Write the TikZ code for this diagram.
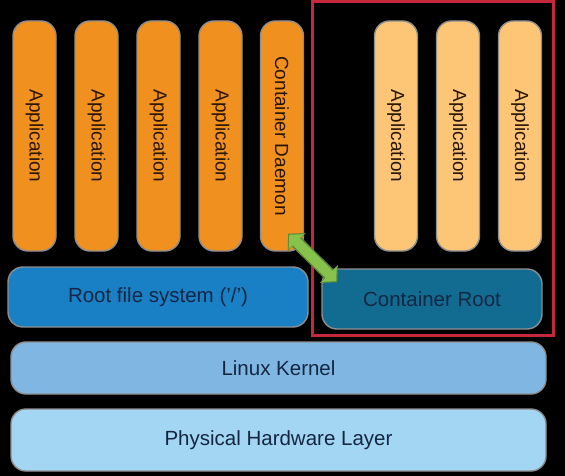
\documentclass[tikz,border=0pt]{standalone}
\usepackage{fontspec}
\setmainfont{Liberation Sans}
\usepackage{tikz}
\usetikzlibrary{arrows.meta, positioning, calc}

\definecolor{apporange}{HTML}{F0901F}
\definecolor{applight}{HTML}{FDC676}
\definecolor{rootblue}{HTML}{1A80C6}
\definecolor{crootblue}{HTML}{126C92}
\definecolor{kernelblue}{HTML}{80B7E2}
\definecolor{hwblue}{HTML}{A2D6F3}
\definecolor{boxred}{HTML}{C4283A}
\definecolor{linkgreen}{HTML}{86C24C}
\definecolor{edgegrey}{HTML}{8E8E8E}
\definecolor{navytext}{HTML}{142642}
\definecolor{browntext}{HTML}{2A1606}

\begin{document}
\begin{tikzpicture}[x=1pt, y=-1pt,
    pillar/.style={draw=edgegrey, line width=1.4pt, rounded corners=15pt,
      minimum width=43pt, minimum height=230pt, inner sep=0pt,
      text=browntext, font=\fontsize{19}{19}\selectfont},
    layer/.style={draw=edgegrey, line width=1.4pt, rounded corners=15pt,
      inner sep=0pt, text=navytext, font=\fontsize{20.5}{20.5}\selectfont}]
      % Background
      \fill[black] (0,0) rectangle (565,476);
      \useasboundingbox (0,0) rectangle (565,476);

      % Host applications
      \foreach \i in {1,...,4}
        \node[pillar, fill=apporange] (app\i) at ({34.5+62*(\i-1)},136)
          {\rotatebox{-90}{Application}};
      \node[pillar, fill=apporange] (daemon) at (282,136)
        {\rotatebox{-90}{Container Daemon}};

      % Container applications
      \foreach \i in {1,...,3}
        \node[pillar, fill=applight] (capp\i) at ({396+62*(\i-1)},136)
          {\rotatebox{-90}{Application}};

      % Root file systems
      \node[layer, fill=rootblue, minimum width=300pt, minimum height=60pt]
        (rootfs) at (158,297) {Root file system ('/')};
      \node[layer, fill=crootblue, minimum width=220pt, minimum height=60pt]
        (croot) at (432,299) {Container Root};

      % Container frame
      \draw[boxred, line width=3pt] (312,2) rectangle (553,335);

      % Kernel and hardware
      \node[layer, fill=kernelblue, minimum width=535pt, minimum height=52pt]
        (kernel) at (278.5,368) {Linux Kernel};
      \node[layer, fill=hwblue, minimum width=535pt, minimum height=62pt]
        (hw) at (278.5,440) {Physical Hardware Layer};

      % Daemon <-> container root
      \draw[linkgreen!70!black, line width=13pt,
        {Triangle[length=12pt,width=25pt]}-{Triangle[length=12pt,width=25pt]}]
        ([shift={(-16,-18)}]daemon.south east) -- ([shift={(16,14)}]croot.north west);
      \draw[linkgreen, line width=10pt, shorten <=1.5pt, shorten >=1.5pt,
        {Triangle[length=10pt,width=21pt]}-{Triangle[length=10pt,width=21pt]}]
        ([shift={(-16,-18)}]daemon.south east) -- ([shift={(16,14)}]croot.north west);
    \end{tikzpicture}
\end{document}
